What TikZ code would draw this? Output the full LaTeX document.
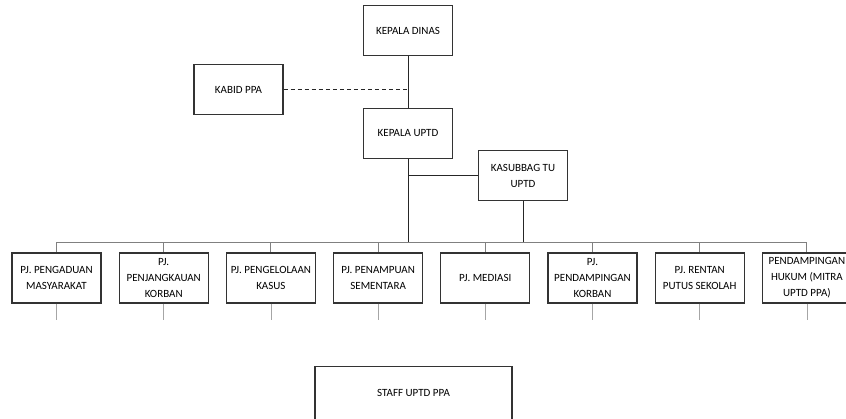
\documentclass[tikz,border=0pt]{standalone}
\usepackage{fontspec}
\setmainfont{Carlito}
\usepackage{tikz}
\usetikzlibrary{calc}

\begin{document}
\begin{tikzpicture}[
x=0.03cm, y=-0.03cm,
box/.style={draw=black!80, line width=1pt, fill=white, minimum width=2.67cm, minimum height=1.52cm,
  align=center, inner sep=1pt, font=\fontsize{9.4}{13.6}\selectfont},
link/.style={black!85, line width=0.8pt},
bus/.style={black!50, line width=0.8pt},
stem/.style={black!35, line width=0.6pt}
]
\useasboundingbox (0,0) rectangle (846,418);
\clip (0,0) rectangle (846,418);

% top of the chart
\node[box] (dinas) at (408,30.5) {KEPALA DINAS};
\node[box] (kabid) at (238.5,89.5) {KABID PPA};
\node[box] (uptd) at (408,133.5) {KEPALA UPTD};
\node[box] (kasub) at (523,175.5) {KASUBBAG TU\\UPTD};

\draw[link] (dinas) -- (uptd);
\draw[link, dash pattern=on 3.5pt off 2.5pt] (kabid.east) -- (kabid.east -| dinas.south);

% row of PJ boxes
\foreach \i/\name/\txt in {
  0/aduan/{PJ. PENGADUAN\\MASYARAKAT},
  1/jangkau/{PJ.\\PENJANGKAUAN\\KORBAN},
  2/kelola/{PJ. PENGELOLAAN\\KASUS},
  3/tampung/{PJ. PENAMPUAN\\SEMENTARA},
  4/mediasi/{PJ. MEDIASI},
  5/damping/{PJ.\\PENDAMPINGAN\\KORBAN},
  6/rentan/{PJ. RENTAN\\PUTUS SEKOLAH},
  7/hukum/{PENDAMPINGAN\\HUKUM (MITRA\\UPTD PPA)}}
{
  \node[box, minimum height=1.5cm] (\name) at ({56.5+107.2*\i},278) {\txt};
  \coordinate (\name-top) at ({56.5+107.2*\i},242);
  \coordinate (\name-end) at ({56.5+107.2*\i},320);
  \draw[bus] (\name-top) -- (\name.north);
  \draw[stem] (\name.south) -- (\name-end);
}
\draw[bus] (aduan-top) -- (hukum-top);

\draw[link] (uptd.south) -- (uptd.south |- aduan-top);
\draw[link] (uptd.south |- kasub.west) -- (kasub.west);
\draw[link] (kasub.south) -- (kasub.south |- aduan-top);

\node[box, minimum width=5.91cm, minimum height=1.6cm] (staff) at (413.5,393) {STAFF UPTD PPA};
\end{tikzpicture}
\end{document}
